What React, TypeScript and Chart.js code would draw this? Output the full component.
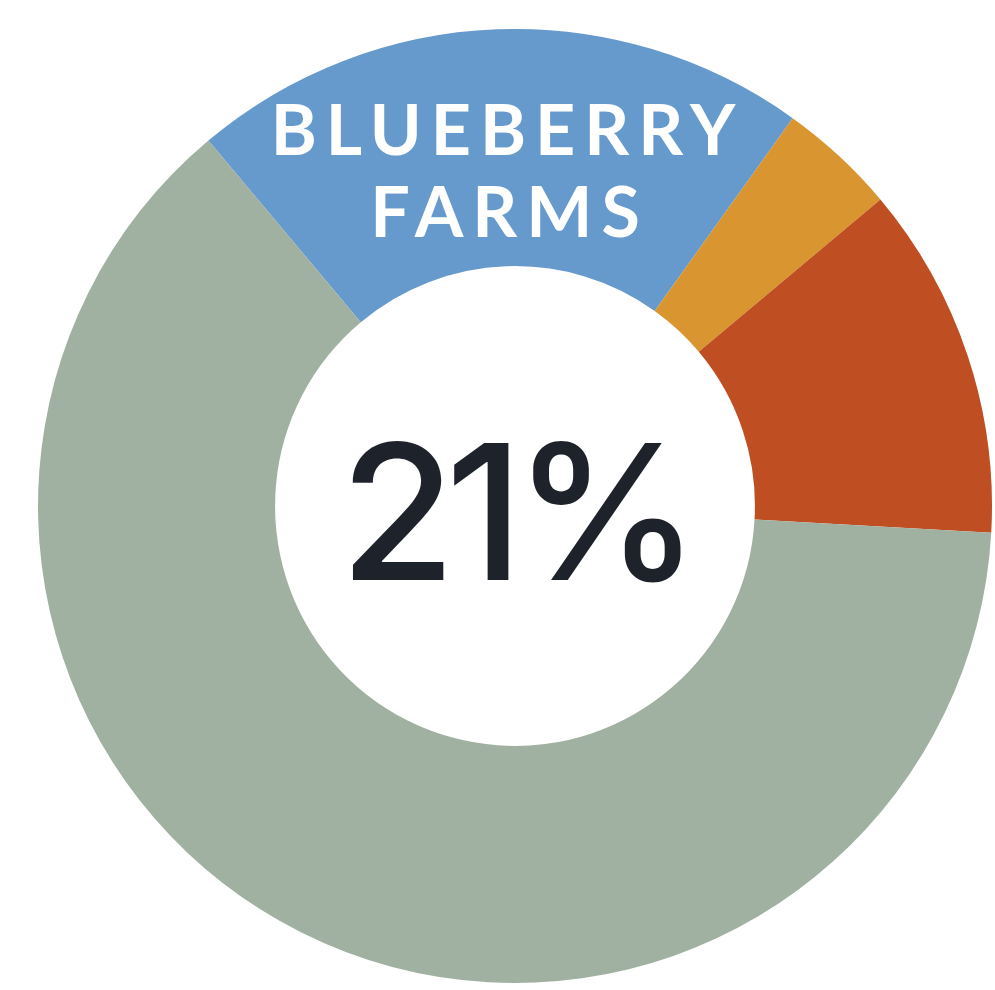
import React, { useEffect, useRef } from "react";
import { Chart, registerables } from "chart.js";

Chart.register(...registerables);

const categories = ["Blueberry Farms", "Segment B", "Segment C", "Other"];
const shares = [21, 4, 12, 63];
const sliceColors = ["#6699cc", "#d9952f", "#bf4e22", "#a0b1a1"];
const labelLines = ["BLUEBERRY", "FARMS"];
const centerLabel = "21%";

const textPlugin = {
  id: "donutText",
  afterDraw(chart: any) {
    const meta = chart.getDatasetMeta(0);
    const arc = meta.data[0];
    if (!arc) return;
    const { x, y, outerRadius } = arc.getProps(["x", "y", "outerRadius"], true);
    const s = outerRadius / 477;
    const ctx = chart.ctx;
    ctx.save();
    ctx.textAlign = "center";
    ctx.textBaseline = "alphabetic";
    ctx.fillStyle = "#ffffff";
    ctx.font = `bold ${Math.round(70 * s)}px Lato`;
    const sp = 9 * s;
    try { (ctx as any).letterSpacing = `${sp}px`; } catch (e) {}
    ctx.fillText(labelLines[0], x - 12 * s + sp / 2, y - 351 * s);
    ctx.fillText(labelLines[1], x - 10 * s + sp / 2, y - 269 * s);
    const sp2 = -10 * s;
    try { (ctx as any).letterSpacing = `${sp2}px`; } catch (e) {}
    ctx.fillStyle = "#1e232b";
    ctx.font = `500 ${Math.round(188 * s)}px Inter`;
    ctx.fillText(centerLabel, x + 5 * s + sp2 / 2, y + 74 * s);
    ctx.restore();
  },
};

export default function App() {
  const ref = useRef<HTMLCanvasElement>(null);
  useEffect(() => {
    document.body.style.margin = "0";
    const canvas = ref.current;
    if (!canvas) return;
    const chart = new Chart(canvas, {
      type: "doughnut",
      data: {
        labels: categories,
        datasets: [
          {
            data: shares,
            backgroundColor: sliceColors,
            borderWidth: 0,
            hoverOffset: 0,
          },
        ],
      },
      options: {
        animation: false,
        responsive: false,
        rotation: -40,
        cutout: "50.3%",
        layout: { padding: { left: 38, right: 3, top: 29, bottom: 7 } },
        plugins: {
          legend: { display: false },
          tooltip: { enabled: false },
        },
      },
      plugins: [textPlugin],
    });
    return () => chart.destroy();
  }, []);
  return (
    <div style={{ width: 995, height: 990, background: "#ffffff" }}>
      <canvas ref={ref} width={995} height={990} style={{ display: "block" }} />
    </div>
  );
}
